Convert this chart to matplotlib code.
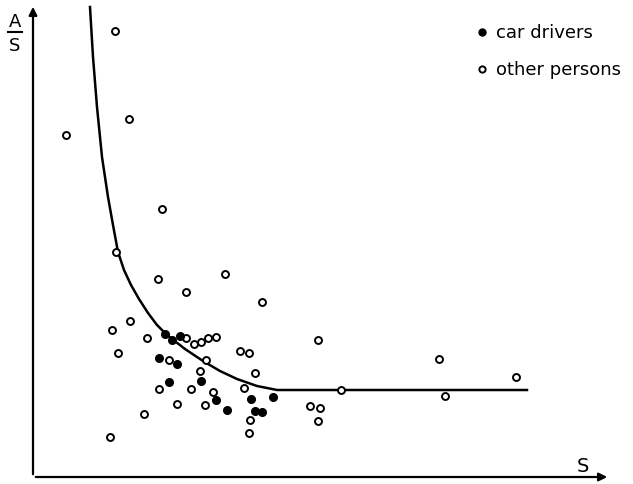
import numpy as np
import matplotlib
matplotlib.use('Agg')
import matplotlib.pyplot as plt

# other persons (open circles), S vs A/S in plot units
other_s = [229, 79, 97, 114, 85, 153, 161, 168, 175, 183, 136, 173, 207, 216, 167, 222,
           126, 158, 180, 211, 144, 172, 111, 217, 216, 77,
           285, 406, 483, 308, 412, 277, 287, 285,
           82, 96, 33, 129, 83, 125, 192, 153]
other_as = [175, 147, 156, 139, 124, 139, 133, 135, 139, 140, 117, 117, 126, 124, 106, 104,
            88, 88, 85, 89, 73, 72, 63, 57, 44, 40,
            137, 118, 100, 87, 81, 71, 69, 56,
            446, 358, 342, 268, 225, 198, 203, 185]

# car drivers (filled dots)
driver_s = [132, 147, 139, 126, 144, 136, 168, 183, 194, 218, 222, 229, 240]
driver_as = [143, 141, 137, 119, 113, 95, 96, 77, 67, 78, 66, 65, 80]

# boundary curve, flattening out to a constant level
curve_s = [57, 60, 64, 69, 75, 80, 85, 91, 98, 106, 115, 124, 133, 143, 152, 170,
           187, 204, 224, 244, 494]
curve_as = [470, 420, 370, 320, 280, 252, 225, 207, 192, 178, 164, 152, 143, 135, 128, 116,
            106, 98, 91, 87, 87]

fig = plt.figure(figsize=(6.33, 4.85), dpi=100)
ax = fig.add_axes([33/633, 7/485, 577/633, 473/485])
ax.set_xlim(0, 577)
ax.set_ylim(0, 473)

ax.plot(curve_s, curve_as, color='black', lw=1.8, solid_joinstyle='round')
ax.plot(other_s, other_as, 'o', ms=5, mfc='white', mec='black', mew=1.4, ls='none')
ax.plot(driver_s, driver_as, 'o', ms=5.5, mfc='black', mec='black', ls='none')

# axes drawn as arrows, no ticks
for s in ['top', 'right', 'left', 'bottom']:
    ax.spines[s].set_visible(False)
ax.set_xticks([])
ax.set_yticks([])
ax.annotate('', xy=(577, 0), xytext=(0, 0), annotation_clip=False,
            arrowprops=dict(arrowstyle='-|>', color='black', lw=1.6, mutation_scale=12))
ax.annotate('', xy=(0, 473), xytext=(0, 0), annotation_clip=False,
            arrowprops=dict(arrowstyle='-|>', color='black', lw=1.6, mutation_scale=12))

# axis labels
fig.text(583/633, 1 - 467/485, 'S', fontsize=14, ha='center', va='center')
fig.text(15/633, 1 - 22/485, 'A', fontsize=13, ha='center', va='center')
fig.text(15/633, 1 - 46/485, 'S', fontsize=13, ha='center', va='center')
fig.add_artist(plt.Line2D([8/633, 22/633], [1 - 33/485, 1 - 33/485], color='black', lw=1.5))

# legend
fig.add_artist(plt.Line2D([482/633], [1 - 33/485], marker='o', ms=5, color='black', ls='none'))
fig.add_artist(plt.Line2D([482/633], [1 - 70/485], marker='o', ms=4.5, mfc='white',
                          mec='black', mew=1.4, ls='none'))
fig.text(496/633, 1 - 33/485, 'car drivers', fontsize=13, va='center')
fig.text(496/633, 1 - 70/485, 'other persons', fontsize=13, va='center')

plt.savefig('out.png', dpi=100)
